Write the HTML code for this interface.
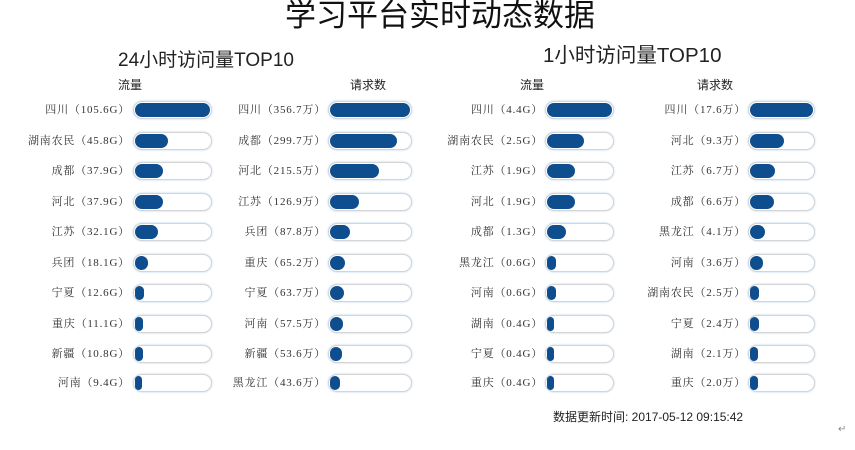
<!DOCTYPE html>
<html><head><meta charset="utf-8"><style>
body{margin:0;width:855px;height:450px;background:#fff;position:relative;overflow:hidden;font-family:"Liberation Sans","Noto Sans CJK SC",sans-serif;color:#222}
.a{position:absolute;white-space:nowrap}
.lb{position:absolute;width:200px;text-align:right;font-family:"Liberation Serif","Noto Serif CJK SC",serif;font-size:11px;letter-spacing:0.8px;color:#333;line-height:18px}
.t{position:absolute;height:16px;border:1px solid #d4d4d4;border-radius:9px;background:#fff;box-shadow:0 0 2px #b8d4f0}
.f{position:absolute;left:1px;top:1px;height:14px;border-radius:8px;background:#0e4d8e}
.c1 .t{left:133px;width:77px}.c1 .lb{left:-70px}
.c2 .t{left:328px;width:82px}.c2 .lb{left:126px}
.c3 .t{left:545px;width:67px}.c3 .lb{left:343px}
.c4 .t{left:748px;width:65px}.c4 .lb{left:546px}
.r{position:absolute;left:0;width:855px;height:18px}
</style></head><body>
<div class="a" style="left:0;width:880px;text-align:center;top:0px;font-size:31px;line-height:32px;color:#111">学习平台实时动态数据</div>
<div class="a" style="left:118px;top:45px;font-size:19px">24小时访问量TOP10</div>
<div class="a" style="left:543px;top:38px;font-size:20.5px">1小时访问量TOP10</div>
<div class="a" style="left:118px;top:76px;font-size:12px">流量</div>
<div class="a" style="left:350px;top:76px;font-size:12px">请求数</div>
<div class="a" style="left:520px;top:76px;font-size:12px">流量</div>
<div class="a" style="left:697px;top:76px;font-size:12px">请求数</div>

<div class="r" style="top:101px">
<div class="c1"><div class="lb">四川（105.6G）</div><div class="t"><div class="f" style="width:75px"></div></div></div>
<div class="c2"><div class="lb">四川（356.7万）</div><div class="t"><div class="f" style="width:80px"></div></div></div>
<div class="c3"><div class="lb">四川（4.4G）</div><div class="t"><div class="f" style="width:65px"></div></div></div>
<div class="c4"><div class="lb">四川（17.6万）</div><div class="t"><div class="f" style="width:63px"></div></div></div></div>
<div class="r" style="top:132px">
<div class="c1"><div class="lb">湖南农民（45.8G）</div><div class="t"><div class="f" style="width:33px"></div></div></div>
<div class="c2"><div class="lb">成都（299.7万）</div><div class="t"><div class="f" style="width:67px"></div></div></div>
<div class="c3"><div class="lb">湖南农民（2.5G）</div><div class="t"><div class="f" style="width:37px"></div></div></div>
<div class="c4"><div class="lb">河北（9.3万）</div><div class="t"><div class="f" style="width:34px"></div></div></div></div>
<div class="r" style="top:162px">
<div class="c1"><div class="lb">成都（37.9G）</div><div class="t"><div class="f" style="width:28px"></div></div></div>
<div class="c2"><div class="lb">河北（215.5万）</div><div class="t"><div class="f" style="width:49px"></div></div></div>
<div class="c3"><div class="lb">江苏（1.9G）</div><div class="t"><div class="f" style="width:28px"></div></div></div>
<div class="c4"><div class="lb">江苏（6.7万）</div><div class="t"><div class="f" style="width:25px"></div></div></div></div>
<div class="r" style="top:193px">
<div class="c1"><div class="lb">河北（37.9G）</div><div class="t"><div class="f" style="width:28px"></div></div></div>
<div class="c2"><div class="lb">江苏（126.9万）</div><div class="t"><div class="f" style="width:29px"></div></div></div>
<div class="c3"><div class="lb">河北（1.9G）</div><div class="t"><div class="f" style="width:28px"></div></div></div>
<div class="c4"><div class="lb">成都（6.6万）</div><div class="t"><div class="f" style="width:24px"></div></div></div></div>
<div class="r" style="top:223px">
<div class="c1"><div class="lb">江苏（32.1G）</div><div class="t"><div class="f" style="width:23px"></div></div></div>
<div class="c2"><div class="lb">兵团（87.8万）</div><div class="t"><div class="f" style="width:20px"></div></div></div>
<div class="c3"><div class="lb">成都（1.3G）</div><div class="t"><div class="f" style="width:19px"></div></div></div>
<div class="c4"><div class="lb">黑龙江（4.1万）</div><div class="t"><div class="f" style="width:15px"></div></div></div></div>
<div class="r" style="top:254px">
<div class="c1"><div class="lb">兵团（18.1G）</div><div class="t"><div class="f" style="width:13px"></div></div></div>
<div class="c2"><div class="lb">重庆（65.2万）</div><div class="t"><div class="f" style="width:15px"></div></div></div>
<div class="c3"><div class="lb">黑龙江（0.6G）</div><div class="t"><div class="f" style="width:9px"></div></div></div>
<div class="c4"><div class="lb">河南（3.6万）</div><div class="t"><div class="f" style="width:13px"></div></div></div></div>
<div class="r" style="top:284px">
<div class="c1"><div class="lb">宁夏（12.6G）</div><div class="t"><div class="f" style="width:9px"></div></div></div>
<div class="c2"><div class="lb">宁夏（63.7万）</div><div class="t"><div class="f" style="width:14px"></div></div></div>
<div class="c3"><div class="lb">河南（0.6G）</div><div class="t"><div class="f" style="width:9px"></div></div></div>
<div class="c4"><div class="lb">湖南农民（2.5万）</div><div class="t"><div class="f" style="width:9px"></div></div></div></div>
<div class="r" style="top:315px">
<div class="c1"><div class="lb">重庆（11.1G）</div><div class="t"><div class="f" style="width:8px"></div></div></div>
<div class="c2"><div class="lb">河南（57.5万）</div><div class="t"><div class="f" style="width:13px"></div></div></div>
<div class="c3"><div class="lb">湖南（0.4G）</div><div class="t"><div class="f" style="width:7px"></div></div></div>
<div class="c4"><div class="lb">宁夏（2.4万）</div><div class="t"><div class="f" style="width:9px"></div></div></div></div>
<div class="r" style="top:345px">
<div class="c1"><div class="lb">新疆（10.8G）</div><div class="t"><div class="f" style="width:8px"></div></div></div>
<div class="c2"><div class="lb">新疆（53.6万）</div><div class="t"><div class="f" style="width:12px"></div></div></div>
<div class="c3"><div class="lb">宁夏（0.4G）</div><div class="t"><div class="f" style="width:7px"></div></div></div>
<div class="c4"><div class="lb">湖南（2.1万）</div><div class="t"><div class="f" style="width:8px"></div></div></div></div>
<div class="r" style="top:374px">
<div class="c1"><div class="lb">河南（9.4G）</div><div class="t"><div class="f" style="width:7px"></div></div></div>
<div class="c2"><div class="lb">黑龙江（43.6万）</div><div class="t"><div class="f" style="width:10px"></div></div></div>
<div class="c3"><div class="lb">重庆（0.4G）</div><div class="t"><div class="f" style="width:7px"></div></div></div>
<div class="c4"><div class="lb">重庆（2.0万）</div><div class="t"><div class="f" style="width:8px"></div></div></div></div>

<div class="a" style="left:553px;top:408px;font-size:12px;color:#222">数据更新时间: 2017-05-12 09:15:42</div>
<div class="a" style="left:838px;top:424px;font-size:10px;color:#888">↵</div>
</body></html>
